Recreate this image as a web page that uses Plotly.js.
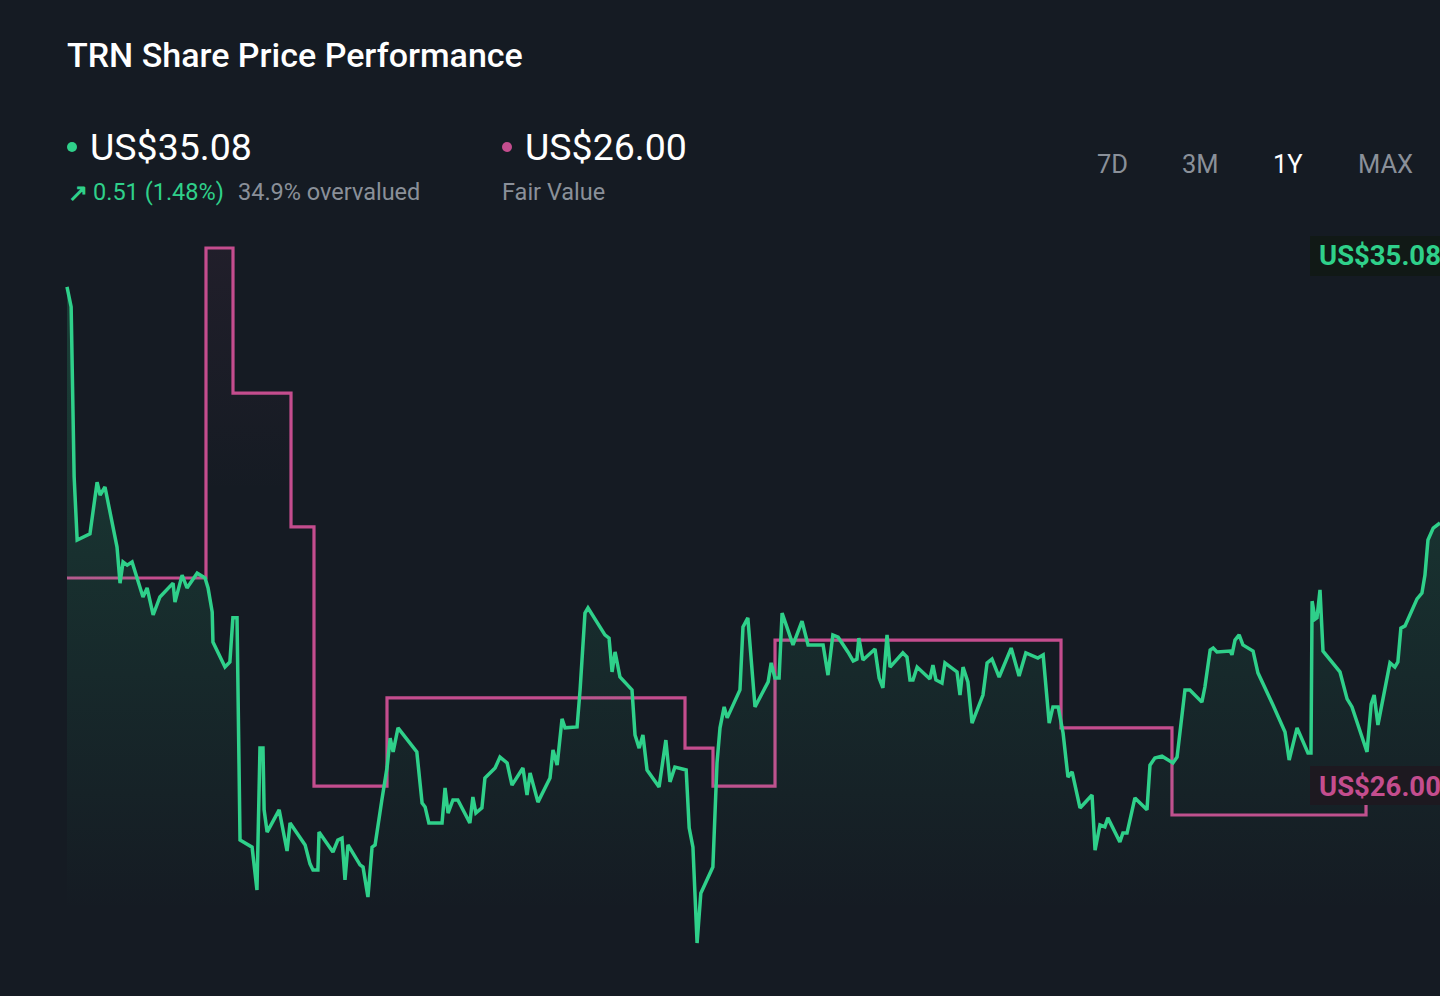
<!DOCTYPE html>
<html>
<head>
<meta charset="utf-8">
<script src="https://cdn.plot.ly/plotly-3.0.1.min.js"></script>
<style>
  html, body { margin: 0; padding: 0; background: #151b23; }
  #chart { width: 1440px; height: 996px; }
</style>
</head>
<body>
<div id="chart"></div>
<script>
// ---- Data (days since start of the 1Y window, share price in US$) ----
const days = [0, 1.1, 1.9, 2.7, 6.1, 8.0, 8.8, 10.1, 13.3, 14.1, 14.9, 16.0, 17.3, 20.2, 21.3, 22.9, 23.9, 24.7, 28.2, 28.7,
  30.6, 31.9, 34.6, 36.7, 37.5, 38.6, 38.8, 42.0, 43.3, 44.1, 45.2, 46.0, 49.2, 50.5, 51.3, 52.1, 52.4, 53.2, 56.4, 58.5,
  59.3, 63.3, 64.6, 65.4, 66.7, 67.0, 70.7, 72.0, 73.1, 73.9, 74.7, 77.9, 78.7, 80.0, 81.1, 81.9, 83.7, 85.1, 85.9, 86.7,
  88.0, 93.0, 94.4, 95.2, 96.2, 99.7, 100.5, 101.3, 102.6, 103.9, 107.1, 107.9, 108.7, 110.3, 111.1, 113.8, 115.1, 117.0, 118.3, 121.2,
  122.3, 123.1, 125.2, 128.4, 129.2, 130.3, 131.6, 132.4, 135.6, 136.4, 137.7, 138.5, 143.0, 144.1, 144.9, 145.7, 147.0, 150.2, 151.0, 152.1,
  153.1, 154.2, 157.4, 159.2, 160.3, 161.6, 164.6, 165.4, 166.4, 167.5, 168.5, 171.7, 172.8, 173.6, 174.7, 175.5, 178.9, 179.7, 181.0, 182.9,
  186.4, 187.2, 188.2, 189.3, 190.1, 193.0, 195.4, 197.0, 201.0, 202.3, 203.6, 205.0, 207.6, 209.0, 210.0, 210.5, 211.6, 214.8, 215.9, 216.9,
  218.0, 218.8, 222.2, 223.3, 224.1, 224.9, 226.0, 229.4, 230.2, 231.0, 232.6, 233.4, 236.6, 237.4, 238.2, 239.5, 240.6, 243.5, 244.6, 245.9,
  247.8, 251.0, 253.1, 254.9, 258.1, 259.5, 261.1, 262.1, 263.5, 264.8, 266.1, 267.2, 269.3, 272.5, 273.3, 274.6, 275.9, 276.7, 279.9, 280.7,
  281.8, 283.9, 287.1, 287.9, 289.2, 291.1, 294.0, 295.1, 297.2, 298.5, 301.7, 302.5, 303.9, 304.7, 305.7, 309.2, 309.7, 310.5, 311.6, 312.6,
  315.3, 316.6, 320.6, 323.8, 324.9, 327.0, 329.9, 330.7, 331.0, 331.8, 332.3, 333.1, 333.9, 338.4, 340.3, 341.6, 345.6, 346.7, 347.5, 348.5,
  351.7, 353.0, 353.8, 354.6, 355.7, 358.9, 360.2, 361.0, 361.8, 363.2, 365.0];
const price = [42.42, 41.80, 36.51, 34.55, 34.74, 36.35, 35.95, 36.20, 34.33, 33.21, 33.87, 33.77, 33.87, 32.78, 33.06, 32.22, 32.53, 32.78, 33.21, 32.62,
  33.46, 33.06, 33.52, 33.37, 33.06, 32.31, 31.38, 30.60, 30.76, 32.13, 32.13, 25.22, 25.00, 23.67, 28.08, 28.08, 26.16, 25.47, 26.16, 24.88,
  25.75, 25.07, 24.48, 24.29, 24.29, 25.47, 24.85, 25.22, 25.28, 23.98, 25.07, 24.45, 24.38, 23.45, 25.00, 25.07, 26.47, 27.49, 28.39, 27.96,
  28.71, 27.96, 26.37, 26.25, 25.75, 25.75, 26.84, 26.06, 26.47, 26.47, 25.75, 26.56, 26.06, 26.22, 27.15, 27.46, 27.80, 27.62, 26.93, 27.46,
  26.62, 27.31, 26.40, 27.15, 28.02, 27.55, 28.99, 28.71, 28.74, 29.89, 32.28, 32.44, 31.60, 31.50, 30.45, 31.07, 30.29, 29.89, 28.49, 28.08,
  28.49, 27.40, 26.87, 28.33, 27.03, 27.49, 27.40, 25.60, 25.00, 22.02, 23.57, 24.38, 27.62, 28.71, 29.36, 29.02, 29.89, 31.85, 32.13, 29.36,
  30.14, 30.73, 30.26, 30.26, 32.28, 31.29, 32.03, 31.29, 31.29, 30.35, 31.60, 31.53, 31.07, 30.79, 30.85, 31.50, 30.82, 31.16, 30.26, 29.95,
  31.60, 30.60, 31.04, 30.91, 30.20, 30.20, 30.60, 30.23, 30.66, 30.20, 30.10, 30.73, 30.45, 29.73, 30.60, 30.14, 28.86, 29.73, 30.73, 30.85,
  30.29, 31.19, 30.32, 31.04, 30.88, 30.98, 28.86, 29.36, 29.36, 28.55, 27.18, 27.34, 26.22, 26.62, 24.91, 25.69, 25.63, 25.91, 25.16, 25.44,
  25.44, 26.53, 26.16, 27.55, 27.77, 27.83, 27.62, 27.80, 29.89, 29.89, 29.51, 29.98, 31.13, 31.19, 31.07, 31.10, 30.98, 31.44, 31.60, 31.29,
  31.10, 30.42, 29.42, 28.58, 27.71, 28.71, 27.93, 27.93, 32.65, 32.09, 32.13, 33.00, 31.10, 30.45, 29.61, 29.36, 27.96, 29.45, 29.73, 28.80,
  30.73, 30.60, 30.76, 31.81, 31.88, 32.72, 32.90, 33.46, 34.55, 34.92, 35.08];

// Fair value estimate steps
const fvDays   = [0, 36.95, 44.13, 59.55, 65.66, 85.07, 164.29, 171.73, 188.22, 264.25, 293.75, 345.33, 345.33];
const fvValues = [33.37, 43.63, 39.12, 34.96, 26.90, 29.64, 28.08, 26.90, 31.44, 28.71, 26.00, 26.00, 26.35];

// Texts
const chartTitle = 'TRN Share Price Performance';
const lastPrice = 'US$35.08';
const changeArrow = '↗';
const changeText = '0.51 (1.48%)';
const valuationText = '34.9% overvalued';
const fairValue = 'US$26.00';
const fairValueLabel = 'Fair Value';
const rangeButtons = ['7D', '3M', '1Y', 'MAX'];
const activeButton = '1Y';

// ---- Styles ----
const BG = '#151b23';
const GREEN = '#2fd08a';
const PINK = '#c44d8e';
const GREY = '#8a9099';
const W = 1440, H = 996;
const px = x => x / W;
const py = y => 1 - y / H;
const FONT = 'Roboto, sans-serif';

const traces = [
  {
    x: fvDays, y: fvValues, type: 'scatter', mode: 'lines',
    line: { color: PINK, width: 3.2, shape: 'hv' },
    fill: 'tozeroy',
    fillgradient: { type: 'vertical', start: 36, stop: 44,
      colorscale: [[0, 'rgba(196,77,142,0)'], [1, 'rgba(196,77,142,0.07)']] },
    hoverinfo: 'skip'
  },
  {
    x: days, y: price, type: 'scatter', mode: 'lines',
    line: { color: GREEN, width: 3.5, shape: 'linear' },
    fill: 'tozeroy',
    fillgradient: { type: 'vertical', start: 23, stop: 44,
      colorscale: [[0, 'rgba(47,208,138,0)'], [1, 'rgba(47,208,138,0.22)']] },
    hoverinfo: 'skip'
  }
];

const ann = [];
function txt(text, x, y, size, color, opts, weight) {
  ann.push(Object.assign({
    text: text, x: px(x), y: py(y), xref: 'paper', yref: 'paper',
    xanchor: 'left', yanchor: 'middle', showarrow: false,
    font: { family: FONT, size: size, color: color, weight: weight || 400 }
  }, opts || {}));
}
txt(chartTitle, 65, 55, 34, '#ffffff', null, 500);
txt(lastPrice, 88, 147, 37.5, '#ffffff');
txt(changeArrow, 66, 193, 24, GREEN, null, 700);
txt(changeText, 91, 192, 23.5, GREEN);
txt(valuationText, 236, 192, 23.5, GREY);
txt(fairValue, 523, 147, 37.5, '#ffffff');
txt(fairValueLabel, 500, 192, 23.5, GREY);
const btnX = [1112, 1200, 1288, 1385];
rangeButtons.forEach((b, i) => {
  txt(b, btnX[i], 164, 25.5, b === activeButton ? '#ffffff' : GREY, { xanchor: 'center' });
});
txt(lastPrice, 1317, 256, 27.5, GREEN, null, 700);
txt(fairValue, 1317, 786, 27.5, PINK, null, 700);

const shapes = [
  { type: 'circle', xref: 'paper', yref: 'paper', x0: px(67), x1: px(77), y0: py(152), y1: py(142),
    fillcolor: GREEN, line: { width: 0 } },
  { type: 'circle', xref: 'paper', yref: 'paper', x0: px(502), x1: px(512), y0: py(152), y1: py(142),
    fillcolor: PINK, line: { width: 0 } },
  { type: 'rect', xref: 'paper', yref: 'paper', x0: px(1310), x1: 1, y0: py(276), y1: py(236),
    fillcolor: '#111916', line: { width: 0 }, layer: 'above' },
  { type: 'rect', xref: 'paper', yref: 'paper', x0: px(1310), x1: 1, y0: py(805), y1: py(766),
    fillcolor: '#1d1920', line: { width: 0 }, layer: 'above' }
];

const layout = {
  width: W, height: H,
  paper_bgcolor: BG, plot_bgcolor: BG,
  margin: { l: 0, r: 0, t: 0, b: 0, pad: 0 },
  showlegend: false,
  xaxis: { visible: false, range: [-67 / 3.76164, 365], fixedrange: true },
  yaxis: { visible: false, range: [20.372, 51.342], fixedrange: true },
  annotations: ann,
  shapes: shapes
};

Plotly.newPlot('chart', traces, layout, { displayModeBar: false, staticPlot: true });
</script>
</body>
</html>
